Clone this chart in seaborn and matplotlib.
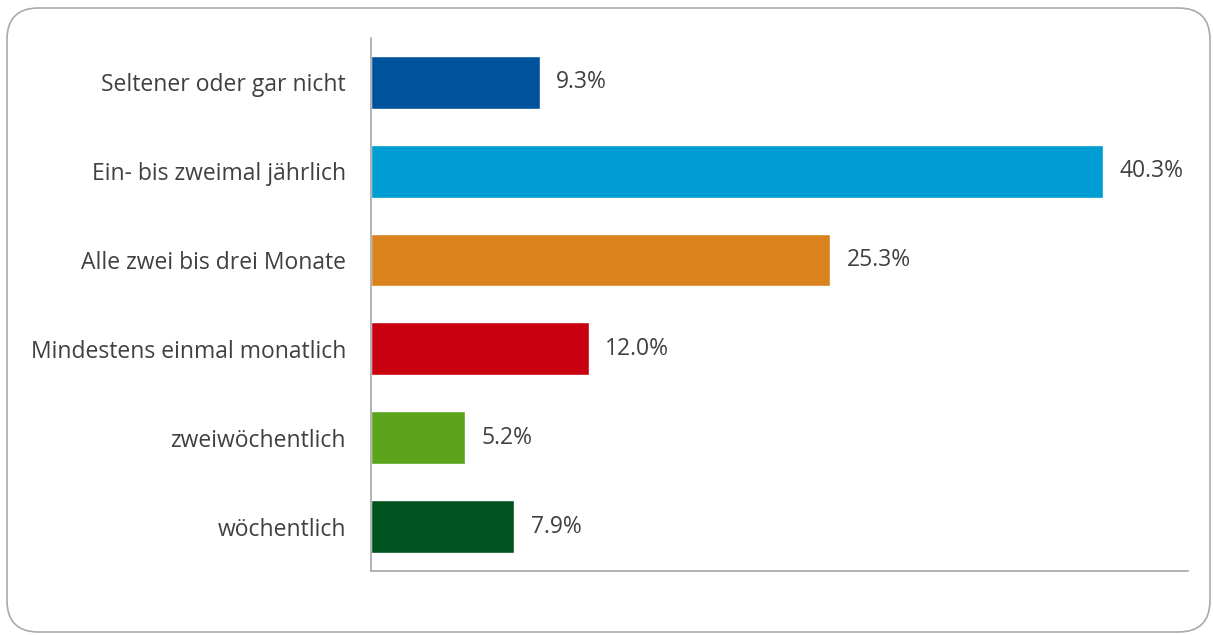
import pandas as pd
import matplotlib
matplotlib.use("Agg")
import matplotlib.pyplot as plt
import seaborn as sns
from matplotlib.patches import FancyBboxPatch

categories = [
    "Seltener oder gar nicht",
    "Ein- bis zweimal jährlich",
    "Alle zwei bis drei Monate",
    "Mindestens einmal monatlich",
    "zweiwöchentlich",
    "wöchentlich",
]
values = [9.3, 40.3, 25.3, 12.0, 5.2, 7.9]
colors = ["#00529c", "#009cd4", "#d9821e", "#c8000f", "#5ba41c", "#00521f"]


def main():
    data = pd.DataFrame({"category": categories, "value": values})

    sns.set_style("white")
    plt.rcParams["font.family"] = ["Open Sans", "DejaVu Sans"]

    fig = plt.figure(figsize=(12.13, 6.35), dpi=100)
    ax = fig.add_axes([0.3059, 0.1008, 0.6735, 0.8394])

    # Rounded frame around the whole chart
    frame = FancyBboxPatch((7 / 1213, 3 / 635), 1203 / 1213, 624 / 635,
                           boxstyle="round,pad=0,rounding_size=0.026",
                           transform=fig.transFigure, facecolor="none",
                           edgecolor="#aaaaaa", linewidth=1.2,
                           mutation_aspect=1213 / 635)
    fig.patches.append(frame)

    sns.barplot(data=data, x="value", y="category", hue="category",
                palette=colors, legend=False, width=0.595, saturation=1,
                ax=ax)

    for i, v in enumerate(values):
        ax.text(v + 0.9, i, f"{v:.1f}%", va="center", ha="left",
                fontsize=16.5, color="#404040")

    ax.set_xlim(0, 45)
    ax.set_ylim(5.5, -0.5)
    ax.set_xlabel("")
    ax.set_ylabel("")
    ax.set_xticks([])
    ax.tick_params(axis="y", length=0, pad=18, labelsize=16.5, labelcolor="#404040")

    for side in ["top", "right"]:
        ax.spines[side].set_visible(False)
    for side in ["left", "bottom"]:
        ax.spines[side].set_color("#a6a6a6")
        ax.spines[side].set_linewidth(1.2)

    fig.savefig("out.png", dpi=100)


if __name__ == "__main__":
    main()
